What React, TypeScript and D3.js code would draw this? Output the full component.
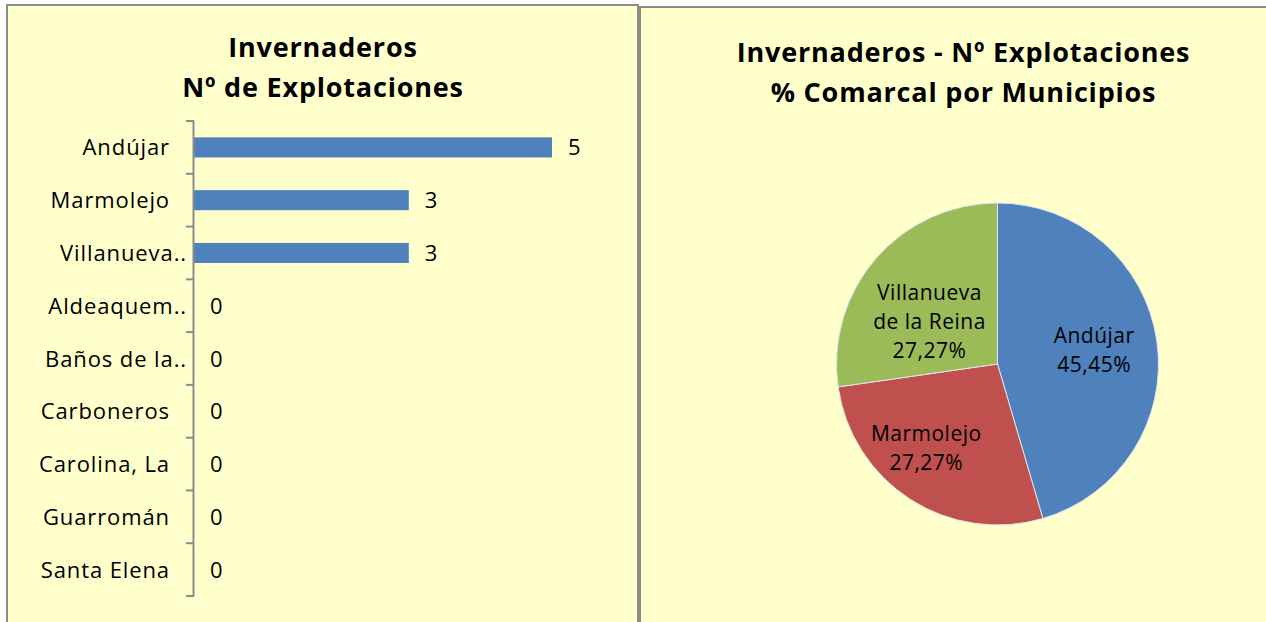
import React from "react";
import * as d3 from "d3";

const categories = ["Andújar", "Marmolejo", "Villanueva de la Reina", "Aldeaquemada", "Baños de la Encina", "Carboneros", "Carolina, La", "Guarromán", "Santa Elena"];
const shownLabels = ["Andújar", "Marmolejo", "Villanueva..", "Aldeaquem..", "Baños de la..", "Carboneros", "Carolina, La", "Guarromán", "Santa Elena"];
const values = [5, 3, 3, 0, 0, 0, 0, 0, 0];
const pieNames = [["Andújar"], ["Marmolejo"], ["Villanueva", "de la Reina"]];
const pieValues = [5, 3, 3];
const pieColors = ["#4F81BD", "#C0504D", "#9BBB59"];

const FONT = "'Open Sans', 'Noto Sans', sans-serif";
const BG = "#FFFFCC";
// label placement nudges (layout only)
const labelNudge: [number, number][] = [[1, 0], [-19, 3], [5, 21]];

export default function App() {
  const y = d3.scaleBand<string>().domain(categories).range([121, 596]).paddingInner(0.62).paddingOuter(0.31);
  const band = d3.scaleBand<string>().domain(categories).range([121, 596]);
  const x = d3.scaleLinear().domain([0, 5]).range([194, 552]);

  const total = d3.sum(pieValues);
  const pie = d3.pie<number>().sort(null).value((d) => d)(pieValues);
  const r = 161;
  const arc = d3.arc<d3.PieArcDatum<number>>().innerRadius(0).outerRadius(r);
  const labelArc = d3.arc<d3.PieArcDatum<number>>().innerRadius(r * 0.6).outerRadius(r * 0.6);
  const fmt = (v: number) => ((v / total) * 100).toFixed(2).replace(".", ",") + "%";

  const titleStyle = { fontFamily: FONT, fontWeight: 700, fontSize: 27, letterSpacing: 0.8 } as const;
  const labelStyle = { fontFamily: FONT, fontSize: 22, letterSpacing: 0.9 } as const;

  return (
    <svg width={1266} height={622} style={{ position: "absolute", left: 0, top: 0 }}>
      <rect x={0} y={0} width={1266} height={622} fill="#fff" />
      <rect x={7} y={5} width={631} height={640} fill={BG} stroke="#8c8c8c" strokeWidth={2} />
      <rect x={640} y={7} width={640} height={640} fill={BG} stroke="#8c8c8c" strokeWidth={2} />

      <text x={323} y={57} textAnchor="middle" style={titleStyle} fill="#000">Invernaderos</text>
      <text x={323} y={97} textAnchor="middle" style={titleStyle} fill="#000">Nº de Explotaciones</text>

      {categories.map((c, i) => (
        <g key={c}>
          <rect x={x(0)} y={y(c)!} width={x(values[i]) - x(0)} height={y.bandwidth()} fill="#4F81BD" />
          <text x={x(values[i]) + 16} y={band(c)! + band.bandwidth() / 2 + 8} style={labelStyle} fill="#000">{values[i]}</text>
          <text x={shownLabels[i].endsWith("..") ? 187 : 170} y={band(c)! + band.bandwidth() / 2 + 8} textAnchor="end" style={labelStyle} fill="#000">{shownLabels[i]}</text>
        </g>
      ))}
      <line x1={193.5} x2={193.5} y1={121} y2={596} stroke="#8c8c8c" strokeWidth={2} />
      {[...categories.map((c) => band(c)!), 596].map((t, i) => (
        <line key={i} x1={186} x2={194} y1={t} y2={t} stroke="#8c8c8c" strokeWidth={2} />
      ))}

      <text x={963.5} y={62} textAnchor="middle" style={titleStyle} fill="#000">Invernaderos - Nº Explotaciones</text>
      <text x={963.5} y={102} textAnchor="middle" style={titleStyle} fill="#000">% Comarcal por Municipios</text>

      <g transform="translate(997.5,364)">
        {pie.map((p, i) => (
          <path key={i} d={arc(p)!} fill={pieColors[i]} stroke="#dfe6ee" strokeWidth={1} />
        ))}
        {pie.map((p, i) => {
          const [cx0, cy0] = labelArc.centroid(p);
          const cx = cx0 + labelNudge[i][0];
          const cy = cy0 + labelNudge[i][1];
          const lines = [...pieNames[i], fmt(p.value)];
          const lh = 29;
          const start = cy - ((lines.length - 1) * lh) / 2 + 7;
          return (
            <text key={i} textAnchor="middle" fontFamily={FONT} fontSize={21} letterSpacing={0.5} fill="#000">
              {lines.map((l, j) => (
                <tspan key={j} x={cx} y={start + j * lh}>{l}</tspan>
              ))}
            </text>
          );
        })}
      </g>
    </svg>
  );
}
